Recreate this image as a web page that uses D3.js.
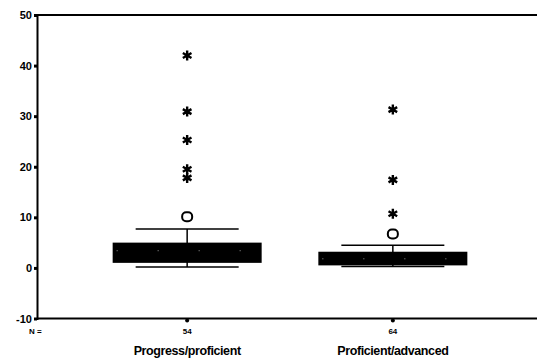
<html>
<head>
<meta charset="utf-8">
<style>
body { margin: 0; background: #fff; }
svg { font-family: Arial, "Liberation Sans", sans-serif; }
.axis text { font-size: 11px; font-weight: bold; fill: #000; }
.axis path, .axis line { stroke: #000; }
</style>
<script src="https://d3js.org/d3.v7.min.js"></script>
</head>
<body>
<svg width="537" height="359"></svg>
<script>
var categories = ["Progress/proficient", "Proficient/advanced"];
var counts = ["54", "64"];
var whiskerLow = [0.2, 0.3];
var boxLow = [1.0, 0.5];
var medians = [3.4, 1.8];
var boxHigh = [5.0, 3.2];
var whiskerHigh = [7.7, 4.5];
var outliers = [[10.1], [6.7]];
var extremes = [[42, 30.9, 25.3, 19.5, 17.8], [31.3, 17.4, 10.7]];
var yTicks = [-10, 0, 10, 20, 30, 40, 50];

var svg = d3.select("svg");
var plotL = 37, plotT = 15, plotR = 537, plotB = 318.5;

var y = d3.scaleLinear().domain([-10, 50]).range([plotB, plotT]);
var x = d3.scalePoint().domain(categories).range([plotL, 543]).padding(0.73);
var boxW = 149, capW = 103;

// frame lines
svg.append("line").attr("x1", plotL).attr("x2", plotR).attr("y1", plotT).attr("y2", plotT)
   .attr("stroke", "#000").attr("stroke-width", 2);
svg.append("line").attr("x1", plotL).attr("x2", plotR).attr("y1", plotB).attr("y2", plotB)
   .attr("stroke", "#000").attr("stroke-width", 2);

var yAxis = svg.append("g").attr("class", "axis")
   .attr("transform", "translate(" + plotL + ",0)")
   .call(d3.axisLeft(y).tickValues(yTicks).tickSize(3).tickPadding(2).tickFormat(function(d) { return String(d); }));
yAxis.select(".domain").attr("stroke-width", 2);
yAxis.selectAll(".tick line").attr("stroke-width", 3);

var g = svg.selectAll(".box").data(categories).enter().append("g").attr("class", "box");

g.append("line")
   .attr("x1", function(d) { return x(d); }).attr("x2", function(d) { return x(d); })
   .attr("y1", function(d, i) { return y(whiskerLow[i]); })
   .attr("y2", function(d, i) { return y(whiskerHigh[i]); })
   .attr("stroke", "#000").attr("stroke-width", 1.5);
g.append("line")
   .attr("x1", function(d) { return x(d) - capW / 2; }).attr("x2", function(d) { return x(d) + capW / 2; })
   .attr("y1", function(d, i) { return y(whiskerHigh[i]); })
   .attr("y2", function(d, i) { return y(whiskerHigh[i]); })
   .attr("stroke", "#000").attr("stroke-width", 1.5);
g.append("line")
   .attr("x1", function(d) { return x(d) - capW / 2; }).attr("x2", function(d) { return x(d) + capW / 2; })
   .attr("y1", function(d, i) { return y(whiskerLow[i]); })
   .attr("y2", function(d, i) { return y(whiskerLow[i]); })
   .attr("stroke", "#000").attr("stroke-width", 1.5);
g.append("rect")
   .attr("x", function(d) { return x(d) - boxW / 2; })
   .attr("width", boxW)
   .attr("y", function(d, i) { return y(boxHigh[i]); })
   .attr("height", function(d, i) { return y(boxLow[i]) - y(boxHigh[i]); })
   .attr("fill", "#000");
g.append("line")
   .attr("x1", function(d) { return x(d) - boxW / 2 + 4; }).attr("x2", function(d) { return x(d) + boxW / 2 - 4; })
   .attr("y1", function(d, i) { return y(medians[i]); })
   .attr("y2", function(d, i) { return y(medians[i]); })
   .attr("stroke", "#fff").attr("stroke-width", 0.6).attr("stroke-dasharray", "1,40");

g.each(function(d, i) {
  var grp = d3.select(this);
  grp.selectAll(".out").data(outliers[i]).enter().append("rect")
     .attr("x", x(d) - 5).attr("y", function(v) { return y(v) - 4.5; })
     .attr("width", 10).attr("height", 9).attr("rx", 4)
     .attr("fill", "none").attr("stroke", "#000").attr("stroke-width", 2);
  grp.selectAll(".ext").data(extremes[i]).enter().append("path")
     .attr("transform", function(v) { return "translate(" + x(d) + "," + y(v) + ")"; })
     .attr("d", d3.symbol().type(d3.symbolAsterisk).size(70))
     .attr("fill", "none").attr("stroke", "#000").attr("stroke-width", 2.4);
});

// category ticks, counts and labels
svg.selectAll(".ctick").data(categories).enter().append("circle")
   .attr("cx", function(d) { return x(d); }).attr("cy", plotB + 2).attr("r", 2).attr("fill", "#000");
svg.selectAll(".cnt").data(counts).enter().append("text")
   .attr("x", function(d, i) { return x(categories[i]); }).attr("y", 334)
   .attr("text-anchor", "middle").attr("font-size", 8).attr("font-weight", "bold")
   .text(function(d) { return d; });
svg.append("text").attr("x", 29).attr("y", 334).attr("font-size", 8).attr("font-weight", "bold").text("N =");
svg.selectAll(".cat").data(categories).enter().append("text")
   .attr("x", function(d) { return x(d); }).attr("y", 355)
   .attr("text-anchor", "middle").attr("font-size", 12.5).attr("font-weight", "bold")
   .attr("letter-spacing", -0.4)
   .text(function(d) { return d; });
</script>
</body>
</html>
